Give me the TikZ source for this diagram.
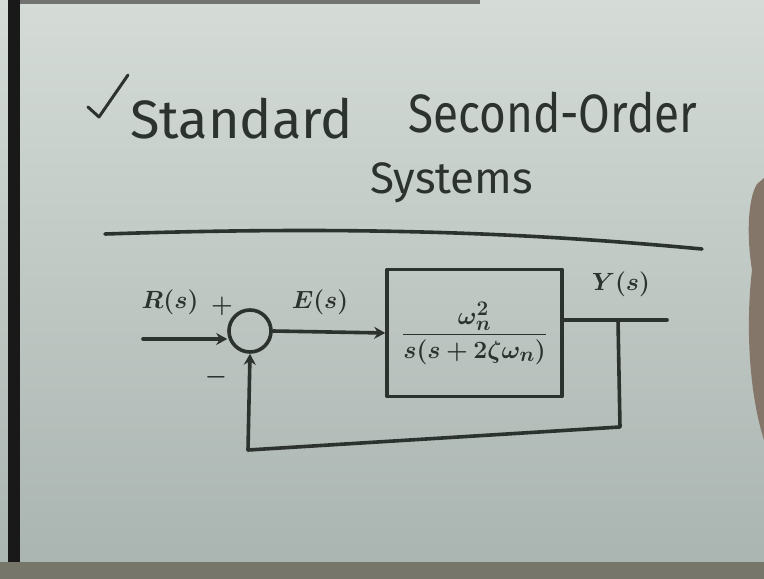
\documentclass[tikz,border=0pt]{standalone}
\usepackage{amsmath}
\usepackage{bm}
\usepackage{fontspec}
\setmainfont{Fira Sans}
\usetikzlibrary{arrows.meta}
\definecolor{inkc}{HTML}{2C322E}
\definecolor{papertop}{HTML}{D5DCD7}
\definecolor{paperbot}{HTML}{A9B3AF}
\definecolor{floorc}{HTML}{77766B}
\definecolor{handc}{HTML}{85766A}
\tikzset{
  ink/.style={draw=inkc, line width=3.6pt, line cap=round, line join=round},
  sig/.style={ink, -{Stealth[length=11pt,width=12pt]}},
  titletxt/.style={text=inkc, inner sep=0pt, font=\fontsize{54}{60}\selectfont},
  lbl/.style={text=inkc, inner sep=0pt, font=\fontsize{26}{30}\selectfont},
  sumc/.style={ink, circle, minimum size=42pt, inner sep=0pt},
  blockc/.style={ink, minimum width=175pt, minimum height=127pt, inner sep=0pt, text=inkc}
}
\begin{document}
\begin{tikzpicture}[x=1pt,y=-1pt]
\useasboundingbox (0,0) rectangle (764,579);
% board and frame
\shade[top color=papertop, bottom color=paperbot] (0,0) rectangle (764,579);
\fill[black!90] (8,0) rectangle (20,579);
\fill[black!55] (20,0) rectangle (480,4);
\fill[floorc] (0,562) rectangle (764,579);
\fill[handc] (764,178) -- (757,184) .. controls (747,200) and (747,240) .. (752,270)
  .. controls (746,320) and (748,390) .. (764,440) -- cycle;
% title
\draw[ink, line width=3pt] (88,107) -- (99,117) -- (128,75);
\node[titletxt, anchor=base west] (stdw) at (130,138) {Standard};
\node[titletxt, anchor=base west] (sow) at (408,132) {\scalebox{0.85}[1]{Second-Order}};
\node[titletxt, anchor=base west, font=\fontsize{44}{50}\selectfont] (sysw) at (370,193) {Systems};
\draw[ink] (105,234) .. controls (350,226) and (520,232) .. (702,249);
% block diagram
\node[sumc] (sum) at (250,331) {};
\node[blockc, font=\fontsize{30}{34}\selectfont] (plant) at (474.5,333)
  {$\displaystyle\frac{\bm{\omega_n^2}}{\bm{s(s+2\zeta\omega_n)}}$};
\coordinate (rin) at (143,339);
\coordinate (yout) at (667,320);
\coordinate (tap) at (618,320);
\coordinate (fbr) at (620,427);
\coordinate (fbl) at (248,450);
\draw[sig] (rin) -- (rin -| sum.west);
\draw[sig] (sum.east) -- (plant.west);
\draw[ink] (plant.east |- yout) -- (yout);
\draw[sig] (tap) -- (fbr) -- (fbl) -- (sum.south);
% labels
\node[lbl] (rlab) at (170,302) {$\bm{R(s)}$};
\node[lbl] (plus) at (222,306) {$\bm{+}$};
\node[lbl] (minus) at (216,377) {$\bm{-}$};
\node[lbl] (elab) at (320,302) {$\bm{E(s)}$};
\node[lbl] (ylab) at (621,284) {$\bm{Y(s)}$};
\end{tikzpicture}
\end{document}
